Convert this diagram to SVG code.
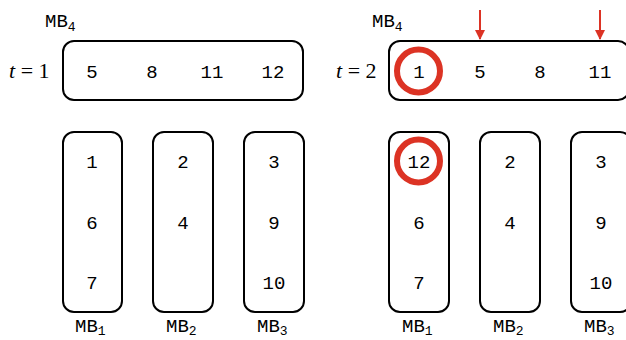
<svg xmlns="http://www.w3.org/2000/svg" width="626" height="340" viewBox="0 0 626 340">
<style>
.box{fill:none;stroke:#000;stroke-width:2}
.n{font-family:"Liberation Mono","DejaVu Sans Mono",monospace;font-size:19px;text-anchor:middle;fill:#000}
.lb{font-family:"Liberation Mono","DejaVu Sans Mono",monospace;font-size:19px;fill:#000}
.sub{font-size:13px}
.m{font-family:"Liberation Serif","DejaVu Serif",serif;font-size:22px;fill:#000}
.hl{fill:none;stroke:#dc3324;stroke-width:6}
.arr{stroke:#dc3324;stroke-width:2;fill:none}
</style>
<defs>
<marker id="ah" viewBox="0 0 10 10" refX="9" refY="5" markerWidth="5" markerHeight="5" orient="auto" markerUnits="strokeWidth">
<path d="M0,0 L10,5 L0,10 z" fill="#dc3324"/>
</marker>
</defs>
<rect width="626" height="340" fill="#fff"/>

<!-- t = 1 -->
<g id="t1-mb4">
<text class="lb" x="45" y="27">MB<tspan class="sub" dy="4">4</tspan></text>
<text class="m" x="9" y="78"><tspan font-style="italic">t</tspan> = 1</text>
<rect class="box" x="63" y="41" width="240" height="59" rx="11"/>
<text class="n" x="92" y="78">5</text>
<text class="n" x="152" y="78">8</text>
<text class="n" x="212" y="78">11</text>
<text class="n" x="273" y="78">12</text>
</g>
<g id="t1-mb1">
<rect class="box" x="63" y="132" width="59" height="180" rx="11"/>
<text class="n" x="92" y="168">1</text>
<text class="n" x="92" y="229">6</text>
<text class="n" x="92" y="289">7</text>
<text class="lb" x="75" y="332">MB<tspan class="sub" dy="3">1</tspan></text>
</g>
<g id="t1-mb2">
<rect class="box" x="153" y="132" width="60" height="180" rx="11"/>
<text class="n" x="183" y="168">2</text>
<text class="n" x="183" y="229">4</text>
<text class="lb" x="166" y="332">MB<tspan class="sub" dy="3">2</tspan></text>
</g>
<g id="t1-mb3">
<rect class="box" x="244" y="132" width="60" height="180" rx="11"/>
<text class="n" x="274" y="168">3</text>
<text class="n" x="274" y="229">9</text>
<text class="n" x="274" y="289">10</text>
<text class="lb" x="257" y="332">MB<tspan class="sub" dy="3">3</tspan></text>
</g>

<!-- t = 2 -->
<g id="t2-mb4">
<text class="lb" x="372" y="27">MB<tspan class="sub" dy="4">4</tspan></text>
<text class="m" x="336" y="78"><tspan font-style="italic">t</tspan> = 2</text>
<rect class="box" x="389" y="41" width="240" height="59" rx="11"/>
<text class="n" x="419" y="78">1</text>
<text class="n" x="480" y="78">5</text>
<text class="n" x="540" y="78">8</text>
<text class="n" x="600" y="78">11</text>
<circle class="hl" cx="418.5" cy="71" r="21.5"/>
</g>
<g id="t2-mb1">
<rect class="box" x="389" y="132" width="60" height="180" rx="11"/>
<text class="n" x="419" y="168">12</text>
<text class="n" x="419" y="229">6</text>
<text class="n" x="419" y="289">7</text>
<circle class="hl" cx="418.5" cy="161" r="21.5"/>
<text class="lb" x="402" y="332">MB<tspan class="sub" dy="3">1</tspan></text>
</g>
<g id="t2-mb2">
<rect class="box" x="480" y="132" width="60" height="180" rx="11"/>
<text class="n" x="510" y="168">2</text>
<text class="n" x="510" y="229">4</text>
<text class="lb" x="493" y="332">MB<tspan class="sub" dy="3">2</tspan></text>
</g>
<g id="t2-mb3">
<rect class="box" x="571" y="132" width="60" height="180" rx="11"/>
<text class="n" x="601" y="168">3</text>
<text class="n" x="601" y="229">9</text>
<text class="n" x="601" y="289">10</text>
<text class="lb" x="584" y="332">MB<tspan class="sub" dy="3">3</tspan></text>
</g>

<g id="connectors">
<line class="arr" x1="480" y1="10" x2="480" y2="39" marker-end="url(#ah)"/>
<line class="arr" x1="600" y1="10" x2="600" y2="39" marker-end="url(#ah)"/>
</g>
</svg>
